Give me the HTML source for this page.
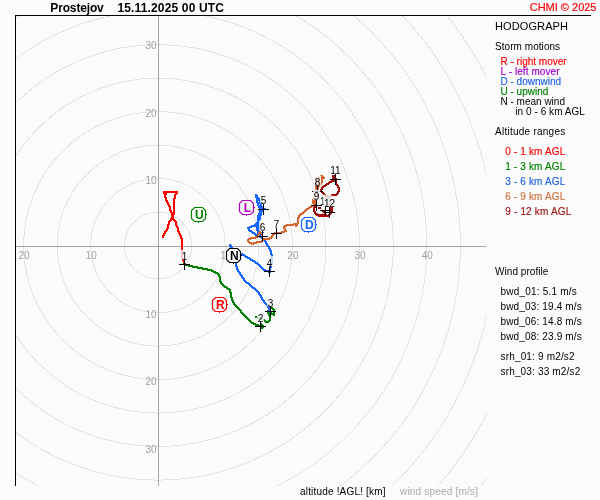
<!DOCTYPE html>
<html><head><meta charset="utf-8"><title>Hodograph</title>
<style>
html,body{margin:0;padding:0;background:#fbfbfb;}
body{width:600px;height:500px;overflow:hidden;font-family:"Liberation Sans",sans-serif;}
svg{display:block;font-family:"Liberation Sans",sans-serif;will-change:transform;}
</style></head><body>
<svg width="600" height="500" viewBox="0 0 600 500">
<rect x="0" y="0" width="600" height="500" fill="#fbfbfb"/>
<defs><clipPath id="plot"><rect x="15" y="15" width="471.5" height="471"/></clipPath></defs>
<g clip-path="url(#plot)" fill="none" stroke="#e3e3e3" stroke-width="1" shape-rendering="crispEdges">
<ellipse cx="158.0" cy="245.6" rx="33.60" ry="33.50"/>
<ellipse cx="158.0" cy="245.6" rx="67.20" ry="67.00"/>
<ellipse cx="158.0" cy="245.6" rx="100.80" ry="100.50"/>
<ellipse cx="158.0" cy="245.6" rx="134.40" ry="134.00"/>
<ellipse cx="158.0" cy="245.6" rx="168.00" ry="167.50"/>
<ellipse cx="158.0" cy="245.6" rx="201.60" ry="201.00"/>
<ellipse cx="158.0" cy="245.6" rx="235.20" ry="234.50"/>
<ellipse cx="158.0" cy="245.6" rx="268.80" ry="268.00"/>
<ellipse cx="158.0" cy="245.6" rx="302.40" ry="301.50"/>
<ellipse cx="158.0" cy="245.6" rx="336.00" ry="335.00"/>
<ellipse cx="158.0" cy="245.6" rx="369.60" ry="368.50"/>
<ellipse cx="158.0" cy="245.6" rx="403.20" ry="402.00"/>
<ellipse cx="158.0" cy="245.6" rx="436.80" ry="435.50"/>
</g>
<g stroke="#a4a4a4" stroke-width="1" shape-rendering="crispEdges"><line x1="15" y1="246.5" x2="486" y2="246.5"/><line x1="158.5" y1="15" x2="158.5" y2="486"/></g>
<g stroke="#000" stroke-width="1" shape-rendering="crispEdges"><line x1="15" y1="15.5" x2="591" y2="15.5"/><line x1="15.5" y1="15" x2="15.5" y2="486"/></g>
<g font-size="10px" fill="#a0a0a0">
<text x="225.7" y="258.5" text-anchor="middle">10</text>
<text x="292.9" y="258.5" text-anchor="middle">20</text>
<text x="360.1" y="258.5" text-anchor="middle">30</text>
<text x="427.3" y="258.5" text-anchor="middle">40</text>
<text x="91.3" y="258.5" text-anchor="middle">10</text>
<text x="24.1" y="258.5" text-anchor="middle">20</text>
<text x="156.6" y="183.8" text-anchor="end">10</text>
<text x="156.6" y="318.2" text-anchor="end">10</text>
<text x="156.6" y="116.6" text-anchor="end">20</text>
<text x="156.6" y="385.4" text-anchor="end">20</text>
<text x="156.6" y="49.4" text-anchor="end">30</text>
<text x="156.6" y="452.6" text-anchor="end">30</text>
</g>
<g shape-rendering="crispEdges">
<path d="M163,191h15v1h-15zM163,192h15v1h-15zM163,193h3v1h-3zM175,193h2v1h-2zM164,194h2v1h-2zM174,194h3v1h-3zM164,195h2v1h-2zM174,195h2v1h-2zM164,196h2v1h-2zM174,196h2v1h-2zM164,197h3v1h-3zM174,197h2v1h-2zM165,198h2v1h-2zM173,198h3v1h-3zM165,199h2v1h-2zM173,199h2v1h-2zM165,200h3v1h-3zM173,200h2v1h-2zM166,201h2v1h-2zM173,201h2v1h-2zM166,202h3v1h-3zM173,202h2v1h-2zM167,203h2v1h-2zM173,203h2v1h-2zM167,204h3v1h-3zM173,204h2v1h-2zM168,205h2v1h-2zM173,205h2v1h-2zM168,206h3v1h-3zM173,206h2v1h-2zM169,207h2v1h-2zM173,207h2v1h-2zM169,208h2v1h-2zM173,208h2v1h-2zM169,209h2v1h-2zM173,209h2v1h-2zM169,210h3v1h-3zM173,210h2v1h-2zM170,211h2v1h-2zM173,211h2v1h-2zM170,212h5v1h-5zM171,213h4v1h-4zM171,214h4v1h-4zM171,215h3v1h-3zM171,216h3v1h-3zM171,217h3v1h-3zM170,218h4v1h-4zM170,219h5v1h-5zM169,220h3v1h-3zM173,220h3v1h-3zM168,221h3v1h-3zM174,221h3v1h-3zM168,222h2v1h-2zM175,222h2v1h-2zM168,223h2v1h-2zM175,223h2v1h-2zM167,224h3v1h-3zM175,224h2v1h-2zM167,225h2v1h-2zM175,225h3v1h-3zM167,226h2v1h-2zM176,226h2v1h-2zM167,227h2v1h-2zM176,227h3v1h-3zM166,228h3v1h-3zM177,228h2v1h-2zM166,229h2v1h-2zM177,229h2v1h-2zM165,230h3v1h-3zM177,230h2v1h-2zM164,231h3v1h-3zM177,231h3v1h-3zM164,232h2v1h-2zM178,232h2v1h-2zM163,233h3v1h-3zM178,233h3v1h-3zM163,234h2v1h-2zM179,234h2v1h-2zM162,235h3v1h-3zM179,235h3v1h-3zM162,236h2v1h-2zM180,236h2v1h-2zM162,237h2v1h-2zM180,237h2v1h-2zM180,238h3v1h-3zM181,239h2v1h-2zM181,240h2v1h-2zM181,241h2v1h-2zM181,242h2v1h-2zM181,243h2v1h-2zM181,244h2v1h-2zM181,245h2v1h-2zM181,246h2v1h-2zM181,247h2v1h-2zM181,248h2v1h-2zM181,249h2v1h-2zM181,250h2v1h-2zM181,251h2v1h-2zM181,252h2v1h-2zM181,253h2v1h-2zM181,254h2v1h-2zM181,255h2v1h-2zM181,256h2v1h-2zM181,257h2v1h-2zM181,258h3v1h-3zM182,259h2v1h-2zM182,260h3v1h-3zM183,261h2v1h-2zM183,262h2v1h-2zM183,263h2v1h-2zM183,264h2v1h-2z" fill="#ff0000"/>
<path d="M183,263h3v1h-3zM183,264h6v1h-6zM185,265h8v1h-8zM188,266h10v1h-10zM192,267h11v1h-11zM197,268h11v1h-11zM202,269h10v1h-10zM207,270h7v1h-7zM211,271h5v1h-5zM213,272h5v1h-5zM215,273h4v1h-4zM217,274h3v1h-3zM218,275h2v1h-2zM218,276h3v1h-3zM219,277h2v1h-2zM219,278h2v1h-2zM219,279h2v1h-2zM219,280h2v1h-2zM219,281h3v1h-3zM220,282h2v1h-2zM220,283h3v1h-3zM221,284h3v1h-3zM222,285h3v1h-3zM223,286h4v1h-4zM224,287h4v1h-4zM226,288h4v1h-4zM227,289h4v1h-4zM229,290h2v1h-2zM229,291h2v1h-2zM229,292h3v1h-3zM230,293h2v1h-2zM230,294h2v1h-2zM230,295h2v1h-2zM230,296h2v1h-2zM230,297h3v1h-3zM231,298h2v1h-2zM231,299h2v1h-2zM231,300h3v1h-3zM232,301h2v1h-2zM232,302h3v1h-3zM233,303h2v1h-2zM233,304h3v1h-3zM234,305h3v1h-3zM235,306h3v1h-3zM236,307h3v1h-3zM237,308h3v1h-3zM238,309h3v1h-3zM239,310h3v1h-3zM240,311h2v1h-2zM240,312h3v1h-3zM241,313h3v1h-3zM242,314h3v1h-3zM243,315h3v1h-3zM244,316h3v1h-3zM245,317h3v1h-3zM246,318h3v1h-3zM247,319h3v1h-3zM248,320h3v1h-3zM249,321h3v1h-3zM250,322h4v1h-4zM251,323h5v1h-5zM253,324h6v1h-6zM255,325h6v1h-6zM258,326h3v1h-3z" fill="#008000"/>
<path d="M270,307h3v1h-3zM268,308h6v1h-6zM268,309h3v1h-3zM272,309h3v1h-3zM267,310h3v1h-3zM273,310h2v1h-2zM267,311h4v1h-4zM273,311h2v1h-2zM267,312h5v1h-5zM273,312h2v1h-2zM267,313h8v1h-8zM268,314h2v1h-2zM271,314h4v1h-4zM268,315h3v1h-3zM273,315h2v1h-2zM255,316h3v1h-3zM269,316h2v1h-2zM255,317h6v1h-6zM269,317h2v1h-2zM257,318h6v1h-6zM269,318h2v1h-2zM260,319h5v1h-5zM269,319h2v1h-2zM262,320h4v1h-4zM268,320h3v1h-3zM264,321h6v1h-6zM265,322h4v1h-4z" fill="#008000"/>
<polygon points="260.5,322 265,326.5 262,329.5 260,327" fill="#008000"/>
<path d="M261,237h2v1h-2zM261,238h3v1h-3zM262,239h3v1h-3zM263,240h3v1h-3zM264,241h3v1h-3zM265,242h2v1h-2zM265,243h3v1h-3zM229,244h2v1h-2zM266,244h2v1h-2zM229,245h3v1h-3zM266,245h3v1h-3zM229,246h3v1h-3zM267,246h3v1h-3zM230,247h3v1h-3zM268,247h2v1h-2zM230,248h3v1h-3zM268,248h3v1h-3zM230,249h5v1h-5zM269,249h2v1h-2zM230,250h7v1h-7zM269,250h3v1h-3zM231,251h2v1h-2zM234,251h5v1h-5zM270,251h2v1h-2zM231,252h2v1h-2zM236,252h5v1h-5zM270,252h2v1h-2zM231,253h2v1h-2zM238,253h5v1h-5zM270,253h2v1h-2zM231,254h3v1h-3zM240,254h5v1h-5zM270,254h3v1h-3zM232,255h2v1h-2zM242,255h4v1h-4zM271,255h2v1h-2zM232,256h2v1h-2zM244,256h4v1h-4zM271,256h2v1h-2zM232,257h3v1h-3zM245,257h5v1h-5zM271,257h2v1h-2zM233,258h2v1h-2zM247,258h4v1h-4zM271,258h2v1h-2zM233,259h2v1h-2zM249,259h4v1h-4zM271,259h2v1h-2zM233,260h3v1h-3zM250,260h5v1h-5zM271,260h2v1h-2zM234,261h2v1h-2zM252,261h4v1h-4zM271,261h2v1h-2zM234,262h3v1h-3zM254,262h4v1h-4zM271,262h2v1h-2zM235,263h2v1h-2zM255,263h4v1h-4zM271,263h2v1h-2zM235,264h2v1h-2zM257,264h3v1h-3zM270,264h3v1h-3zM235,265h2v1h-2zM258,265h3v1h-3zM270,265h2v1h-2zM235,266h3v1h-3zM259,266h3v1h-3zM270,266h2v1h-2zM236,267h2v1h-2zM260,267h3v1h-3zM269,267h3v1h-3zM236,268h2v1h-2zM261,268h3v1h-3zM269,268h2v1h-2zM236,269h3v1h-3zM262,269h4v1h-4zM269,269h2v1h-2zM237,270h2v1h-2zM263,270h8v1h-8zM237,271h3v1h-3zM265,271h6v1h-6zM238,272h3v1h-3zM268,272h3v1h-3zM239,273h2v1h-2zM239,274h3v1h-3zM240,275h3v1h-3zM241,276h2v1h-2zM241,277h3v1h-3zM242,278h3v1h-3zM243,279h2v1h-2zM243,280h3v1h-3zM244,281h3v1h-3zM245,282h4v1h-4zM246,283h4v1h-4zM248,284h3v1h-3zM249,285h3v1h-3zM250,286h3v1h-3zM251,287h4v1h-4zM252,288h4v1h-4zM254,289h3v1h-3zM255,290h3v1h-3zM256,291h3v1h-3zM257,292h3v1h-3zM258,293h2v1h-2zM258,294h3v1h-3zM259,295h3v1h-3zM260,296h2v1h-2zM260,297h3v1h-3zM261,298h2v1h-2zM261,299h3v1h-3zM262,300h3v1h-3zM263,301h2v1h-2zM263,302h3v1h-3zM264,303h3v1h-3zM265,304h3v1h-3zM266,305h3v1h-3zM267,306h2v1h-2zM267,307h3v1h-3zM268,308h2v1h-2zM268,309h2v1h-2zM268,310h3v1h-3zM269,311h2v1h-2zM269,312h2v1h-2z" fill="#1464ff"/>
<path d="M255,194h2v1h-2zM255,195h3v1h-3zM255,196h3v1h-3zM255,197h4v1h-4zM256,198h4v1h-4zM256,199h4v1h-4zM256,200h5v1h-5zM256,201h2v1h-2zM259,201h2v1h-2zM256,202h5v1h-5zM257,203h5v1h-5zM257,204h2v1h-2zM260,204h2v1h-2zM257,205h5v1h-5zM258,206h5v1h-5zM258,207h6v1h-6zM259,208h7v1h-7zM259,209h7v1h-7zM259,210h5v1h-5zM259,211h4v1h-4zM259,212h3v1h-3zM258,213h4v1h-4zM258,214h4v1h-4zM257,215h5v1h-5zM257,216h4v1h-4zM257,217h4v1h-4zM257,218h4v1h-4zM257,219h4v1h-4zM257,220h3v1h-3zM257,221h3v1h-3zM256,222h4v1h-4zM256,223h4v1h-4zM256,224h4v1h-4zM256,225h4v1h-4zM256,226h4v1h-4zM256,227h4v1h-4zM256,228h4v1h-4zM256,229h4v1h-4zM256,230h4v1h-4zM257,231h4v1h-4zM257,232h4v1h-4zM257,233h4v1h-4zM257,234h5v1h-5zM257,235h5v1h-5zM257,236h6v1h-6zM259,237h4v1h-4zM261,238h2v1h-2z" fill="#1464ff"/>
<path d="M255,223h2v1h-2zM254,224h3v1h-3zM251,225h5v1h-5zM249,226h7v1h-7zM247,227h5v1h-5zM247,228h3v1h-3zM248,229h2v1h-2zM248,230h4v1h-4zM249,231h4v1h-4zM251,232h4v1h-4zM252,233h4v1h-4zM254,234h4v1h-4zM255,235h4v1h-4zM257,236h2v1h-2z" fill="#1464ff"/>
<path d="M256,222h1.5v1.5h-1.5zM264.5,229.5h1.5v1.5h-1.5zM262.5,231.5h1.5v1.5h-1.5z" fill="#1464ff"/>
<path d="M320,175h3v1h-3zM318,176h6v1h-6zM317,177h8v1h-8zM317,178h2v1h-2zM321,178h4v1h-4zM316,179h3v1h-3zM321,179h2v1h-2zM316,180h2v1h-2zM321,180h2v1h-2zM315,181h3v1h-3zM321,181h2v1h-2zM315,182h2v1h-2zM320,182h3v1h-3zM315,183h2v1h-2zM320,183h2v1h-2zM315,184h7v1h-7zM316,185h5v1h-5zM316,186h3v1h-3zM315,187h3v1h-3zM315,188h2v1h-2zM315,189h2v1h-2zM315,190h2v1h-2zM315,191h2v1h-2zM315,192h2v1h-2zM314,193h3v1h-3zM314,194h2v1h-2zM314,195h2v1h-2zM313,196h3v1h-3zM313,197h2v1h-2zM313,198h2v1h-2zM312,199h3v1h-3zM312,200h2v1h-2zM312,201h3v1h-3zM313,202h2v1h-2zM313,203h3v1h-3zM314,204h2v1h-2zM311,205h6v1h-6zM309,206h8v1h-8zM308,207h4v1h-4zM306,208h4v1h-4zM305,209h4v1h-4zM304,210h3v1h-3zM303,211h3v1h-3zM302,212h3v1h-3zM300,213h4v1h-4zM299,214h4v1h-4zM298,215h3v1h-3zM298,216h2v1h-2zM297,217h3v1h-3zM297,218h2v1h-2zM297,219h2v1h-2zM297,220h2v1h-2zM297,221h2v1h-2zM297,222h2v1h-2zM293,223h6v1h-6zM286,224h12v1h-12zM284,225h10v1h-10zM295,225h3v1h-3zM283,226h4v1h-4zM295,226h2v1h-2zM283,227h2v1h-2zM283,228h3v1h-3zM284,229h2v1h-2zM284,230h3v1h-3zM259,231h2v1h-2zM281,231h6v1h-6zM258,232h4v1h-4zM274,232h11v1h-11zM258,233h5v1h-5zM273,233h9v1h-9zM257,234h3v1h-3zM261,234h2v1h-2zM272,234h3v1h-3zM257,235h2v1h-2zM261,235h2v1h-2zM271,235h3v1h-3zM255,236h4v1h-4zM261,236h2v1h-2zM271,236h2v1h-2zM250,237h8v1h-8zM269,237h4v1h-4zM248,238h8v1h-8zM263,238h9v1h-9zM247,239h4v1h-4zM262,239h8v1h-8zM247,240h2v1h-2zM261,240h3v1h-3zM247,241h3v1h-3zM256,241h7v1h-7zM248,242h4v1h-4zM253,242h9v1h-9zM249,243h8v1h-8zM251,244h3v1h-3z" fill="#d2642d"/>
<path d="M315,205h2v1h-2zM314,206h3v1h-3zM313,207h3v1h-3zM331,207h2v1h-2zM313,208h2v1h-2zM331,208h2v1h-2zM313,209h2v1h-2zM331,209h2v1h-2zM313,210h2v1h-2zM331,210h2v1h-2zM313,211h3v1h-3zM331,211h2v1h-2zM314,212h2v1h-2zM330,212h3v1h-3zM314,213h4v1h-4zM329,213h3v1h-3zM315,214h12v1h-12zM328,214h3v1h-3zM317,215h13v1h-13zM326,216h3v1h-3z" fill="#a80a0a"/>
<path d="M318,207h3v1h-3zM318,208h3v1h-3z" fill="#a80a0a"/>
<path d="M315,213h2v1h-2zM315,214h4v1h-4zM316,215h13v1h-13zM318,216h11v1h-11z" fill="#a80a0a"/>
<path d="M322,210h2v1h-2zM322,211h3v1h-3zM323,212h3v1h-3zM324,213h2v1h-2z" fill="#a80a0a"/>
<path d="M333,175h2v1h-2zM333,176h3v1h-3zM333,177h3v1h-3zM334,178h3v1h-3zM334,179h3v1h-3zM331,180h6v1h-6zM329,181h8v1h-8zM328,182h4v1h-4zM335,182h2v1h-2zM326,183h4v1h-4zM335,183h2v1h-2zM325,184h4v1h-4zM335,184h3v1h-3zM323,185h4v1h-4zM336,185h3v1h-3zM322,186h4v1h-4zM337,186h2v1h-2zM321,187h3v1h-3zM337,187h3v1h-3zM321,188h2v1h-2zM338,188h2v1h-2zM320,189h3v1h-3zM338,189h2v1h-2zM320,190h2v1h-2zM338,190h2v1h-2zM320,191h3v1h-3zM337,191h3v1h-3zM321,192h3v1h-3zM337,192h2v1h-2zM322,193h3v1h-3zM336,193h3v1h-3zM323,194h3v1h-3zM331,194h7v1h-7zM324,195h4v1h-4zM329,195h8v1h-8zM325,196h7v1h-7zM327,197h3v1h-3zM327,198h3v1h-3zM328,199h2v1h-2zM328,200h2v1h-2zM328,201h2v1h-2zM328,202h3v1h-3zM329,203h2v1h-2zM329,204h2v1h-2zM329,205h2v1h-2zM329,206h2v1h-2zM329,207h2v1h-2zM329,208h2v1h-2zM329,209h2v1h-2zM329,210h2v1h-2zM329,211h2v1h-2zM329,212h2v1h-2z" fill="#a80a0a"/>
<rect x="332" y="174.5" width="3.5" height="4.5" fill="#a80a0a"/>
<rect x="163.5" y="191" width="3" height="3.5" fill="#ff0000"/><rect x="175" y="191" width="3" height="3" fill="#ff0000"/>
<rect x="311.5" y="199" width="4" height="4.5" fill="#d2642d"/><rect x="313" y="197.5" width="1.5" height="7" fill="#d2642d"/>
<rect x="315" y="177" width="4.5" height="10" fill="#d2642d"/><rect x="314.5" y="186.5" width="4" height="4" fill="#d2642d"/>
</g>
<path d="M179.0,264.5h11M184.5,259.0v11" stroke="#000" stroke-width="1" shape-rendering="crispEdges"/>
<rect x="181.0" y="249.7" width="7.1" height="10" fill="#fbfbfb" fill-opacity="0.78"/>
<text x="184.5" y="260" font-size="10px" fill="#000" text-anchor="middle">1</text>
<path d="M255.0,326.5h11M260.5,321.0v11" stroke="#000" stroke-width="1" shape-rendering="crispEdges"/>
<rect x="257.0" y="311.2" width="7.1" height="10" fill="#fbfbfb" fill-opacity="0.78"/>
<text x="260.5" y="321.5" font-size="10px" fill="#000" text-anchor="middle">2</text>
<path d="M265.0,311.5h11M270.5,306.0v11" stroke="#000" stroke-width="1" shape-rendering="crispEdges"/>
<rect x="267.0" y="296.2" width="7.1" height="10" fill="#fbfbfb" fill-opacity="0.78"/>
<text x="270.5" y="306.5" font-size="10px" fill="#000" text-anchor="middle">3</text>
<path d="M264.0,271.5h11M269.5,266.0v11" stroke="#000" stroke-width="1" shape-rendering="crispEdges"/>
<rect x="266.0" y="256.2" width="7.1" height="10" fill="#fbfbfb" fill-opacity="0.78"/>
<text x="269.5" y="266.5" font-size="10px" fill="#000" text-anchor="middle">4</text>
<path d="M258.0,209.5h11M263.5,204.0v11" stroke="#000" stroke-width="1" shape-rendering="crispEdges"/>
<rect x="260.0" y="193.2" width="7.1" height="10" fill="#fbfbfb" fill-opacity="0.78"/>
<text x="263.5" y="203.5" font-size="10px" fill="#000" text-anchor="middle">5</text>
<path d="M257.0,236.5h11M262.5,231.0v11" stroke="#000" stroke-width="1" shape-rendering="crispEdges"/>
<rect x="259.0" y="220.7" width="7.1" height="10" fill="#fbfbfb" fill-opacity="0.78"/>
<text x="262.5" y="231" font-size="10px" fill="#000" text-anchor="middle">6</text>
<path d="M271.0,233.5h11M276.5,228.0v11" stroke="#000" stroke-width="1" shape-rendering="crispEdges"/>
<rect x="273.0" y="217.7" width="7.1" height="10" fill="#fbfbfb" fill-opacity="0.78"/>
<text x="276.5" y="228" font-size="10px" fill="#000" text-anchor="middle">7</text>
<path d="M312.0,191.5h11M317.5,186.0v11" stroke="#000" stroke-width="1" shape-rendering="crispEdges"/>
<rect x="314.0" y="175.7" width="7.1" height="10" fill="#fbfbfb" fill-opacity="0.78"/>
<text x="317.5" y="186" font-size="10px" fill="#000" text-anchor="middle">8</text>
<path d="M311.0,205.5h11M316.5,200.0v11" stroke="#000" stroke-width="1" shape-rendering="crispEdges"/>
<rect x="313.0" y="189.7" width="7.1" height="10" fill="#fbfbfb" fill-opacity="0.78"/>
<text x="316.5" y="200" font-size="10px" fill="#000" text-anchor="middle">9</text>
<path d="M320.0,210.5h11M325.5,205.0v11" stroke="#000" stroke-width="1" shape-rendering="crispEdges"/>
<rect x="319.2" y="194.7" width="12.6" height="10" fill="#fbfbfb" fill-opacity="0.78"/>
<text x="325.5" y="205" font-size="10px" fill="#000" text-anchor="middle">10</text>
<path d="M330.0,179.5h11M335.5,174.0v11" stroke="#000" stroke-width="1" shape-rendering="crispEdges"/>
<rect x="329.2" y="163.7" width="12.6" height="10" fill="#fbfbfb" fill-opacity="0.78"/>
<text x="335.5" y="174" font-size="10px" fill="#000" text-anchor="middle">11</text>
<path d="M324.0,212.5h11M329.5,207.0v11" stroke="#000" stroke-width="1" shape-rendering="crispEdges"/>
<rect x="323.2" y="196.7" width="12.6" height="10" fill="#fbfbfb" fill-opacity="0.78"/>
<text x="329.5" y="207" font-size="10px" fill="#000" text-anchor="middle">12</text>
<polygon points="194.5,207.5 202.5,207.5 205.5,210.5 205.5,218.5 202.5,221.5 194.5,221.5 191.5,218.5 191.5,210.5" fill="#fbfbfb" stroke="#008000" stroke-width="1.15"/>
<path d="M206.0,214.5h1M198.5,222.0v1" stroke="#008000" stroke-width="1"/>
<text x="199.4" y="218.8" font-size="12px" font-weight="bold" fill="#008000" text-anchor="middle">U</text>
<polygon points="242.5,200.5 250.5,200.5 253.5,203.5 253.5,211.5 250.5,214.5 242.5,214.5 239.5,211.5 239.5,203.5" fill="#fbfbfb" stroke="#b400c0" stroke-width="1.15"/>
<path d="M254.0,207.5h1M246.5,215.0v1" stroke="#b400c0" stroke-width="1"/>
<text x="247.4" y="211.8" font-size="12px" font-weight="bold" fill="#b400c0" text-anchor="middle">L</text>
<polygon points="304.5,217.5 312.5,217.5 315.5,220.5 315.5,228.5 312.5,231.5 304.5,231.5 301.5,228.5 301.5,220.5" fill="#fbfbfb" stroke="#1464ff" stroke-width="1.15"/>
<path d="M316.0,224.5h1M308.5,232.0v1" stroke="#1464ff" stroke-width="1"/>
<text x="309.4" y="228.8" font-size="12px" font-weight="bold" fill="#1464ff" text-anchor="middle">D</text>
<polygon points="229.5,248.5 237.5,248.5 240.5,251.5 240.5,259.5 237.5,262.5 229.5,262.5 226.5,259.5 226.5,251.5" fill="#fbfbfb" stroke="#000000" stroke-width="1.15"/>
<path d="M241.0,255.5h1M233.5,263.0v1" stroke="#000000" stroke-width="1"/>
<text x="234.4" y="259.8" font-size="12px" font-weight="bold" fill="#000000" text-anchor="middle">N</text>
<polygon points="215.5,297.5 223.5,297.5 226.5,300.5 226.5,308.5 223.5,311.5 215.5,311.5 212.5,308.5 212.5,300.5" fill="#fbfbfb" stroke="#ff0000" stroke-width="1.15"/>
<path d="M227.0,304.5h1M219.5,312.0v1" stroke="#ff0000" stroke-width="1"/>
<text x="220.4" y="308.8" font-size="12px" font-weight="bold" fill="#ff0000" text-anchor="middle">R</text>
<text x="50.3" y="12" font-size="12px" font-weight="bold" fill="#000" textLength="53.5" xml:space="preserve">Prostejov</text>
<text x="117.4" y="12" font-size="12px" font-weight="bold" fill="#000" textLength="106.6" xml:space="preserve">15.11.2025 00 UTC</text>
<text x="529.7" y="11" font-size="11px" font-weight="normal" fill="#ff0000" stroke="#ff0000" stroke-width="0.15" xml:space="preserve">CHMI © 2025</text>
<text x="495" y="30" font-size="11px" font-weight="normal" fill="#000" textLength="73.0" xml:space="preserve">HODOGRAPH</text>
<text x="495" y="50" font-size="10px" font-weight="normal" fill="#000" textLength="65.1" xml:space="preserve">Storm motions</text>
<text x="500.5" y="65" font-size="10px" font-weight="normal" fill="#ff0000" stroke="#ff0000" stroke-width="0.15" xml:space="preserve">R - right mover</text>
<text x="500.5" y="75" font-size="10px" font-weight="normal" fill="#a000c8" stroke="#a000c8" stroke-width="0.15" textLength="59.0" xml:space="preserve">L - left mover</text>
<text x="500.5" y="85" font-size="10px" font-weight="normal" fill="#1e64e6" stroke="#1e64e6" stroke-width="0.15" xml:space="preserve">D - downwind</text>
<text x="500.5" y="95" font-size="10px" font-weight="normal" fill="#008000" stroke="#008000" stroke-width="0.15" xml:space="preserve">U - upwind</text>
<text x="500.5" y="105" font-size="10px" font-weight="normal" fill="#000" xml:space="preserve">N - mean wind</text>
<text x="515.3" y="115" font-size="10px" font-weight="normal" fill="#000" textLength="69.6" xml:space="preserve">in 0 - 6 km AGL</text>
<text x="495" y="135" font-size="10px" font-weight="normal" fill="#000" textLength="70.2" xml:space="preserve">Altitude ranges</text>
<text x="505.2" y="155" font-size="10px" font-weight="normal" fill="#ff0000" stroke="#ff0000" stroke-width="0.15" textLength="60.0" xml:space="preserve">0 - 1 km AGL</text>
<text x="505.2" y="170" font-size="10px" font-weight="normal" fill="#008000" stroke="#008000" stroke-width="0.15" textLength="60.0" xml:space="preserve">1 - 3 km AGL</text>
<text x="505.2" y="185" font-size="10px" font-weight="normal" fill="#1e64e6" stroke="#1e64e6" stroke-width="0.15" textLength="60.0" xml:space="preserve">3 - 6 km AGL</text>
<text x="505.2" y="200" font-size="10px" font-weight="normal" fill="#d2703c" stroke="#d2703c" stroke-width="0.15" textLength="60.0" xml:space="preserve">6 - 9 km AGL</text>
<text x="505.2" y="215" font-size="10px" font-weight="normal" fill="#a01414" stroke="#a01414" stroke-width="0.15" textLength="66.1" xml:space="preserve">9 - 12 km AGL</text>
<text x="495" y="275" font-size="10px" font-weight="normal" fill="#000" textLength="53.4" xml:space="preserve">Wind profile</text>
<text x="500.5" y="295" font-size="10px" font-weight="normal" fill="#000" textLength="76.2" xml:space="preserve">bwd_01: 5.1 m/s</text>
<text x="500.5" y="310" font-size="10px" font-weight="normal" fill="#000" textLength="81.3" xml:space="preserve">bwd_03: 19.4 m/s</text>
<text x="500.5" y="325" font-size="10px" font-weight="normal" fill="#000" textLength="81.3" xml:space="preserve">bwd_06: 14.8 m/s</text>
<text x="500.5" y="340" font-size="10px" font-weight="normal" fill="#000" textLength="81.3" xml:space="preserve">bwd_08: 23.9 m/s</text>
<text x="500.5" y="360" font-size="10px" font-weight="normal" fill="#000" textLength="74.1" xml:space="preserve">srh_01: 9 m2/s2</text>
<text x="500.5" y="375" font-size="10px" font-weight="normal" fill="#000" textLength="79.7" xml:space="preserve">srh_03: 33 m2/s2</text>
<text x="300" y="495" font-size="10px" font-weight="normal" fill="#000" textLength="85.5" xml:space="preserve">altitude !AGL! [km]</text>
<text x="400" y="495" font-size="10px" font-weight="normal" fill="#b4b4b4" stroke="#b4b4b4" stroke-width="0.15" textLength="78.0" xml:space="preserve">wind speed [m/s]</text>
</svg></body></html>
